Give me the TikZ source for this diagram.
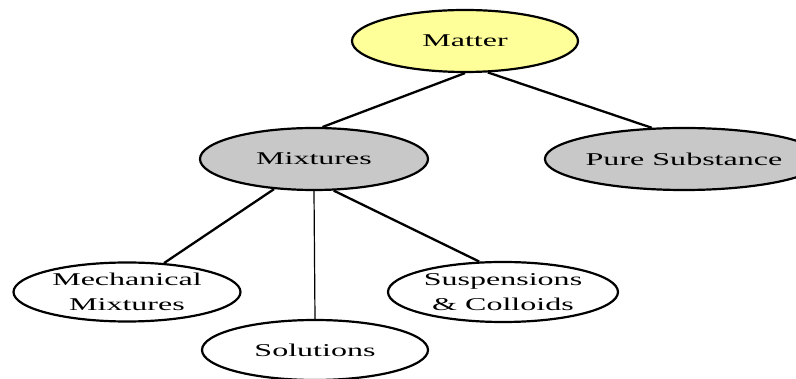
\documentclass[tikz,border=0pt]{standalone}
\usepackage{fontspec}
\setmainfont{Liberation Serif}[FakeStretch=1.78]
\usepackage{tikz}
\usetikzlibrary{shapes.geometric}

\definecolor{matteryellow}{RGB}{255,255,153}
\definecolor{mixgray}{RGB}{200,200,200}

\begin{document}
\begin{tikzpicture} [x=1pt, y=-1pt,
	nodes={ellipse, draw, line width=2.2pt, inner sep=0pt, align=center,
		font=\fontsize{18}{25}\selectfont},
	link/.style={line width=2.3pt},
	thin link/.style={line width=1.2pt}]
	%    top/.style={fill=matteryellow}
	
	\useasboundingbox (0,0) rectangle (796,379);
	
	\node(matter)[fill=matteryellow, minimum width=226pt, minimum height=62pt] at (465,41) {Matter};
	\node(mixtures)[fill=mixgray, minimum width=228pt, minimum height=62pt] at (314,159) {Mixtures};
	\node(pure)[fill=mixgray, minimum width=218pt, minimum height=62pt] at (684,159) {Pure Substance};
	
	\node(mechanical)[fill=white, minimum width=227pt, minimum height=59pt] at (127,292) {Mechanical\\Mixtures};
	\node(suspensions)[fill=white, minimum width=230pt, minimum height=60pt] at (503,292) {Suspensions\\\& Colloids};
	\node(solutions)[fill=white, minimum width=226pt, minimum height=60pt] at (315,350) {Solutions};
	
	\draw[link] (matter.south) -- (mixtures.75);
	\draw[link] (matter.-54) -- (pure.136);
	\draw[link] (mixtures.-143) -- (mechanical.38);
	\draw[thin link] (mixtures.south) -- (solutions.north);
	\draw[link] (mixtures.-58) -- (suspensions.128);
	
	\end{tikzpicture}
\end{document}
